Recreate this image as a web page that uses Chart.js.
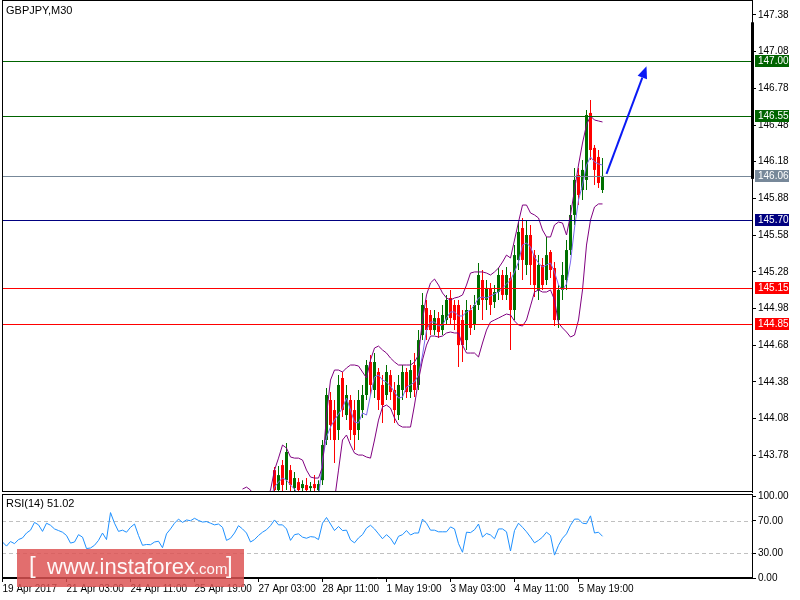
<!DOCTYPE html>
<html>
<head>
<meta charset="utf-8">
<script src="https://cdn.jsdelivr.net/npm/chart.js@4.4.0/dist/chart.umd.min.js"></script>
<style>
html,body{margin:0;padding:0;background:#fff;}
#wrap{position:relative;width:800px;height:600px;overflow:hidden;background:#fff;}
#main{position:absolute;left:0;top:0;}
#rsi{position:absolute;left:0;top:484px;}
#wm{position:absolute;left:17px;top:549px;width:227px;height:38px;background:rgba(221,82,82,0.84);z-index:5;font-family:"Liberation Sans",Arial,sans-serif;color:rgba(255,255,255,0.95);}
#wm .br{position:absolute;top:4px;font-size:24px;line-height:1;}
#wm .txt{position:absolute;left:30px;top:7px;line-height:1;white-space:nowrap;}
#wm .big{font-size:22px;}
#wm .small{font-size:15px;}
</style>
</head>
<body>
<div id="wrap">
  <canvas id="main" width="800" height="494"></canvas>
  <canvas id="rsi" width="800" height="116"></canvas>
  <div id="wm"><span class="br" style="left:12px">[</span><span class="txt"><span class="big">www.instaforex</span><span class="small">.com</span></span><span class="br" style="left:209px">]</span></div>
</div>
<script>
// ---------------- DATA ----------------
const symbolTitle = "GBPJPY,M30";
const rsiTitle = "RSI(14) 51.02";
const timeLabels = ["19 Apr 2017","21 Apr 03:00","24 Apr 11:00","25 Apr 19:00","27 Apr 03:00","28 Apr 11:00","1 May 19:00","3 May 03:00","4 May 11:00","5 May 19:00"];
const timeTickIdx = [0,16,32,48,64,80,96,112,128,144];   // bar index (2-hour steps) of each time label
const priceTicks = [147.38,147.08,146.78,146.48,146.18,145.88,145.58,145.28,144.98,144.68,144.38,144.08,143.78];
const rsiTicks = [100,70,30,0];
const rsiLevels = [70,30];
const levels = [147.00,146.55,146.06,145.70,145.15,144.85];
const priceMarker = [147.32,146.04];
const arrowFrom = {idx:151, price:146.08};
const arrowTo = {idx:161, price:146.96};

// price series start at bar index 60
const firstIdx = 60;
const open = [null,null,null,null,null,null,null,null,
143.659,143.496,143.700,143.577,143.659,143.512,143.561,143.512,143.537,143.512,143.545,143.496,
143.577,143.905,144.232,144.150,143.987,144.412,144.109,144.232,144.150,143.987,
144.150,144.273,144.543,144.314,144.461,144.355,144.273,144.436,144.314,144.109,
144.314,144.461,144.297,144.518,144.355,144.763,144.984,144.927,144.804,144.902,
144.804,144.886,145.066,145.009,145.009,144.886,144.722,144.968,144.845,145.009,
145.213,145.050,145.148,145.033,145.115,145.254,145.091,145.229,144.968,145.377,
145.638,145.336,145.581,145.417,145.132,145.336,145.213,145.442,145.311,144.886,
145.132,145.213,145.458,145.745,146.072,145.949,146.031,146.579,146.293,146.219,145.949];
const high = [null,null,null,null,null,null,null,null,
143.684,143.692,143.741,143.880,143.700,143.643,143.594,143.577,143.594,143.561,143.618,143.577,
143.905,144.330,144.297,144.232,144.436,144.461,144.355,144.273,144.232,144.314,
144.355,144.559,144.600,144.616,144.494,144.436,144.518,144.477,144.379,144.436,
144.518,144.494,144.559,144.616,144.804,145.107,145.050,144.968,144.968,144.952,
145.009,145.091,145.132,145.050,145.050,144.968,145.050,145.009,145.091,145.352,
145.295,145.213,145.189,145.172,145.311,145.295,145.319,145.279,145.499,145.687,
145.720,145.704,145.663,145.458,145.417,145.393,145.565,145.458,145.360,145.172,
145.360,145.540,145.826,146.129,146.129,146.194,146.603,146.685,146.317,146.276,146.211];
const low = [null,null,null,null,null,null,null,null,
143.455,143.455,143.480,143.496,143.455,143.455,143.455,143.455,143.447,143.455,143.463,143.447,
143.537,143.864,143.905,143.717,143.905,144.093,144.068,143.905,143.823,143.905,
144.085,144.232,144.273,144.248,144.150,144.044,144.232,144.232,144.044,144.068,
144.232,144.248,144.248,144.256,144.314,144.722,144.722,144.763,144.763,144.739,
144.763,144.845,144.845,144.804,144.502,144.543,144.641,144.763,144.804,144.968,
144.886,144.968,144.927,144.984,145.050,145.050,145.050,144.641,144.886,145.295,
145.213,145.254,145.172,145.074,145.050,145.132,145.172,145.229,144.837,144.821,
145.050,145.132,145.417,145.663,145.826,145.867,145.949,146.194,145.990,145.965,145.924];
const close = [null,null,null,null,null,null,null,null,
143.496,143.618,143.537,143.807,143.537,143.594,143.496,143.545,143.496,143.528,143.512,143.545,
143.864,144.273,144.028,143.905,144.355,144.150,144.273,143.987,143.946,144.232,
144.273,144.518,144.355,144.543,144.232,144.191,144.461,144.297,144.150,144.355,
144.461,144.297,144.477,144.314,144.722,145.009,144.804,144.804,144.902,144.788,
144.927,145.050,144.902,144.886,144.681,144.681,144.968,144.821,145.009,145.254,
145.050,145.148,145.009,145.115,145.254,145.091,145.254,144.968,145.417,145.606,
145.377,145.581,145.336,145.172,145.336,145.172,145.417,145.295,144.886,145.132,
145.254,145.458,145.745,146.031,145.908,146.113,146.562,146.276,146.113,146.006,146.064];
const bbUpper = [143.504,143.520,143.496,143.430,143.430,143.430,143.430,143.496,143.659,143.757,
143.864,143.839,143.766,143.757,143.757,143.741,143.659,143.602,143.594,143.594,
143.684,144.109,144.395,144.477,144.477,144.461,144.494,144.518,144.518,144.510,
144.461,144.412,144.559,144.657,144.673,144.641,144.616,144.575,144.543,144.518,
144.518,144.518,144.518,144.543,144.600,144.886,145.091,145.189,145.221,145.172,
145.107,145.066,145.050,145.066,145.074,145.091,145.172,145.270,145.279,145.279,
145.279,145.270,145.254,145.279,145.311,145.360,145.417,145.393,145.540,145.687,
145.826,145.826,145.761,145.745,145.720,145.622,145.565,145.565,145.663,145.687,
145.679,145.581,145.745,145.949,146.153,146.333,146.481,146.554,146.521,146.513,146.505];
const bbLower = [null,null,null,null,null,null,null,null,null,null,
null,null,null,null,null,null,null,null,null,null,null,null,null,
143.414,143.659,143.905,143.946,143.864,143.798,143.782,143.782,143.766,143.757,
143.905,144.068,144.175,144.191,144.166,144.085,144.028,144.011,144.011,144.011,
144.191,144.395,144.559,144.681,144.755,144.755,144.747,144.755,144.780,144.788,
144.780,144.780,144.681,144.616,144.616,144.616,144.584,144.698,144.804,144.870,
144.886,144.902,144.919,144.935,144.927,144.878,144.845,144.837,144.886,145.001,
145.115,145.132,145.115,145.115,145.132,145.050,144.861,144.821,144.788,144.747,
144.763,144.886,145.132,145.499,145.704,145.810,145.835,145.835];
const bbMiddle = [null,null,null,null,null,null,null,
143.430,143.520,143.561,143.594,143.577,143.537,143.504,143.455,143.430,143.414,143.414,143.414,143.430,
143.741,143.929,144.011,144.068,144.117,144.166,144.248,144.150,144.052,144.044,
144.126,144.109,144.273,144.420,144.436,144.395,144.379,144.346,144.297,144.248,
144.256,144.338,144.355,144.379,144.436,144.600,144.804,144.870,144.870,144.837,
144.845,144.902,144.952,144.952,144.919,144.919,144.952,144.968,145.009,145.066,
145.074,145.066,145.082,145.099,145.115,145.148,145.180,145.213,145.279,145.360,
145.499,145.516,145.483,145.401,145.352,145.319,145.336,145.352,145.279,145.172,
145.132,145.180,145.360,145.638,145.867,145.990,146.153,146.219,146.178,146.162,146.153];
// RSI(14), bar index 0..150
const rsi = [44,39,44.6,42,47,49,55,58.5,68,65,
57,67,64.5,60,58,56,52,42.7,44,53,
50,36,36.7,40,46,55,47,80,67,57,
58.5,56,62,66,52,40,41,40.7,44,45,
37,54,60,67,72,68,71,70,73,70.4,
68.4,69,67,65,66,62,46,48.6,55,64,
60,55,44,47,52,56,59,64,71,65,
65,60,46,53,54,50,48.6,50.6,50,47,
67,74,66,58,63,58,58.5,46.6,43,49,
53,61,64.5,60,54,48,53,48.6,41,51,
53,58,52.6,55,55,72,67,58.5,58.5,56.5,
56.5,56.5,62.5,60,42,31.5,56,55.5,59,66,
50,54.5,52.6,48,60,60,56.5,33,58,67,
62,56.5,50,43,46,50,56,52,28,40,
48.6,54,64.5,72,72,67,66.4,76,55,56,51];

// ---------------- STYLE / LAYOUT ----------------
const FONT_FAMILY = '"Liberation Sans", Arial, sans-serif';
const TITLE_FONT = '11px "Liberation Sans Narrow", "Liberation Sans", sans-serif';
const tickFont = {family: FONT_FAMILY, size: 10};
const UP = '#007000', DOWN = '#FF0000';
const levelColors = ['#006400','#006400','#778899','#000080','#FF0000','#FF0000'];
const X_MIN = -0.125, X_MAX = 187.375;
const P_MIN = 143.48, P_MAX = 147.494;
const R_MIN = 0, R_MAX = 101.5;

// ---------------- BUILD ----------------
const wickData = [], bodyData = [], candleColors = [];
for (let k = 0; k < open.length; k++) {
  if (open[k] == null) continue;
  wickData.push({x: firstIdx + k, y: [low[k], high[k]]});
  bodyData.push({x: firstIdx + k, y: [open[k], close[k]]});
  candleColors.push(close[k] >= open[k] ? UP : DOWN);
}
const series = arr => arr.map((v, k) => ({x: firstIdx + k, y: v}));

function frame(ctx, a) {
  ctx.save();
  ctx.strokeStyle = '#000'; ctx.lineWidth = 1;
  ctx.strokeRect(a.left + 0.5, a.top - 0.5, a.right - a.left, a.bottom - a.top);
  ctx.restore();
}

const mainDecor = {
  id: 'mainDecor',
  afterDatasetsDraw(chart) {
    const {ctx, chartArea: a, scales: {x, y}} = chart;
    ctx.save();
    levels.forEach((v, k) => {
      const py = Math.round(y.getPixelForValue(v)) + 0.5;
      ctx.strokeStyle = levelColors[k]; ctx.lineWidth = 1;
      ctx.beginPath(); ctx.moveTo(a.left, py); ctx.lineTo(a.right, py); ctx.stroke();
    });
    // arrow
    const x0 = x.getPixelForValue(arrowFrom.idx), y0 = y.getPixelForValue(arrowFrom.price);
    const x1 = x.getPixelForValue(arrowTo.idx), y1 = y.getPixelForValue(arrowTo.price);
    const ang = Math.atan2(y1 - y0, x1 - x0), L = 12, W = 5;
    const bx = x1 - L * Math.cos(ang), by = y1 - L * Math.sin(ang);
    ctx.strokeStyle = '#0A1AF5'; ctx.fillStyle = '#0A1AF5'; ctx.lineWidth = 2;
    ctx.beginPath(); ctx.moveTo(x0, y0); ctx.lineTo(bx, by); ctx.stroke();
    ctx.beginPath(); ctx.moveTo(x1, y1);
    ctx.lineTo(bx + W * Math.sin(ang), by - W * Math.cos(ang));
    ctx.lineTo(bx - W * Math.sin(ang), by + W * Math.cos(ang));
    ctx.closePath(); ctx.fill();
    ctx.restore();
  },
  afterDraw(chart) {
    const {ctx, chartArea: a, scales: {y}} = chart;
    frame(ctx, a);
    ctx.save();
    // thick marker on price axis
    const m0 = y.getPixelForValue(priceMarker[0]), m1 = y.getPixelForValue(priceMarker[1]);
    ctx.fillStyle = '#000';
    ctx.fillRect(a.right - 1, m0, 3, m1 - m0);
    // level labels
    ctx.font = '10px ' + FONT_FAMILY;
    ctx.textBaseline = 'middle'; ctx.textAlign = 'left';
    levels.forEach((v, k) => {
      const py = Math.round(y.getPixelForValue(v));
      ctx.fillStyle = levelColors[k];
      ctx.fillRect(a.right + 3, py - 6, 34, 12);
      ctx.fillStyle = '#fff';
      ctx.fillText(v.toFixed(2), a.right + 6, py + 0.5);
    });
    // title
    ctx.fillStyle = '#000';
    ctx.font = TITLE_FONT;
    ctx.fillText(symbolTitle, 6, 11);
    ctx.restore();
  }
};

const rsiDecor = {
  id: 'rsiDecor',
  beforeDatasetsDraw(chart) {
    const {ctx, chartArea: a, scales: {y}} = chart;
    ctx.save();
    ctx.strokeStyle = '#C0C0C0'; ctx.lineWidth = 1; ctx.setLineDash([4, 3]);
    rsiLevels.forEach(v => {
      const py = Math.round(y.getPixelForValue(v)) + 0.5;
      ctx.beginPath(); ctx.moveTo(a.left, py); ctx.lineTo(a.right, py); ctx.stroke();
    });
    ctx.restore();
  },
  afterDraw(chart) {
    const {ctx, chartArea: a} = chart;
    frame(ctx, a);
    ctx.save();
    ctx.fillStyle = '#000';
    ctx.font = TITLE_FONT;
    ctx.textBaseline = 'middle'; ctx.textAlign = 'left';
    ctx.fillText(rsiTitle, 6, a.top + 9);
    ctx.restore();
  }
};

const axisY = (min, max, ticksArr) => ({
  type: 'linear', position: 'right', min, max, beginAtZero: false,
  afterFit(s) { s.width = 48; s.paddingTop = 0; s.paddingBottom = 0; },
  afterBuildTicks(s) { s.ticks = ticksArr.map(v => ({value: v})); },
  ticks: {font: tickFont, color: '#000', padding: 2, autoSkip: false, callback: v => Number(v).toFixed(2)},
  grid: {drawOnChartArea: false, drawTicks: true, tickLength: 4, color: '#000'},
  border: {display: true, color: '#000'}
});

new Chart(document.getElementById('main'), {
  type: 'bar',
  data: {
    datasets: [
      {type: 'line', data: series(bbUpper), borderColor: '#800080', borderWidth: 1, pointRadius: 0, tension: 0, clip: 0},
      {type: 'line', data: series(bbLower), borderColor: '#800080', borderWidth: 1, pointRadius: 0, tension: 0, clip: 0},
      {type: 'line', data: series(bbMiddle), borderColor: '#7B68EE', borderWidth: 1, pointRadius: 0, tension: 0, clip: 0},
      {type: 'bar', data: bodyData, backgroundColor: candleColors, barThickness: 3, grouped: false, inflateAmount: 0, borderWidth: 0, clip: 0},
      {type: 'bar', data: wickData, backgroundColor: candleColors, barThickness: 1, grouped: false, inflateAmount: 0, borderWidth: 0, clip: 0}
    ]
  },
  options: {
    responsive: false, animation: false, events: [],
    layout: {padding: {left: 2, top: 1, right: 0, bottom: 2}},
    plugins: {legend: {display: false}, tooltip: {enabled: false}},
    scales: {
      x: {type: 'linear', display: false, min: X_MIN, max: X_MAX, offset: false},
      y: axisY(P_MIN, P_MAX, priceTicks)
    }
  },
  plugins: [mainDecor]
});

new Chart(document.getElementById('rsi'), {
  type: 'line',
  data: {datasets: [{data: rsi.map((v, i) => ({x: i, y: v})), borderColor: '#1E90FF', borderWidth: 1, pointRadius: 0, tension: 0, clip: 0}]},
  options: {
    responsive: false, animation: false, events: [],
    layout: {padding: {left: 2, top: 11, right: 0, bottom: 0}},
    plugins: {legend: {display: false}, tooltip: {enabled: false}},
    scales: {
      x: {
        type: 'linear', min: X_MIN, max: X_MAX, offset: false,
        afterBuildTicks(s) { s.ticks = timeTickIdx.map(v => ({value: v})); },
        afterFit(s) { s.height = 22; s.paddingLeft = 0; s.paddingRight = 0; },
        ticks: {font: tickFont, color: '#000', align: 'start', padding: 1, maxRotation: 0, autoSkip: false, callback: (v, i) => timeLabels[i]},
        grid: {drawOnChartArea: false, drawTicks: true, tickLength: 4, color: '#000'},
        border: {display: true, color: '#000'}
      },
      y: axisY(R_MIN, R_MAX, rsiTicks)
    }
  },
  plugins: [rsiDecor]
});
</script>
</body>
</html>
